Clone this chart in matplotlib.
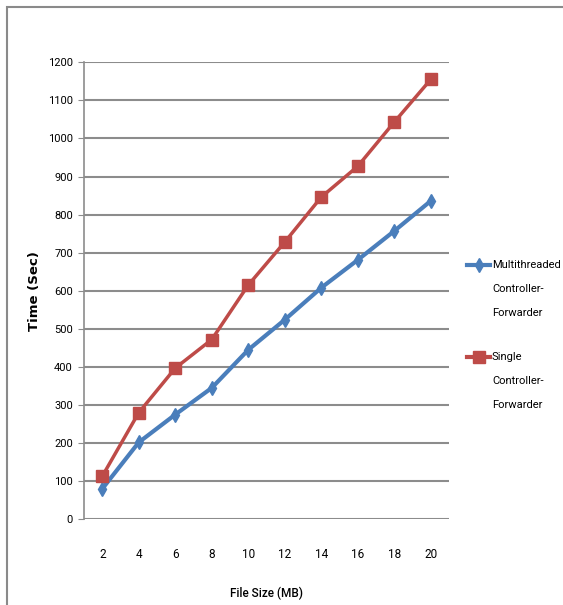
import matplotlib.pyplot as plt
from matplotlib.lines import Line2D
from matplotlib.patches import Rectangle

# file sizes (MB) and transfer times (sec)
file_sizes = [2, 4, 6, 8, 10, 12, 14, 16, 18, 20]
multi_times = [80, 202, 275, 345, 445, 524, 608, 681, 757, 836]
single_times = [113, 280, 397, 472, 615, 728, 846, 927, 1043, 1155]
series_names = ["Multithreaded\nController-\nForwarder",
                "Single\nController-\nForwarder"]

BLUE = "#4a7ebb"
RED = "#be4b48"
GRID = "#8c8c8c"
FONT = ["Roboto", "DejaVu Sans"]

W, H = 563, 605
fig = plt.figure(figsize=(W / 100, H / 100), dpi=100)
fig.patch.set_facecolor("white")

# outer chart frame
fig.add_artist(Rectangle((7 / W, -0.1), 1.2, 1 - 7 / H + 0.1,
                         transform=fig.transFigure, fill=False,
                         edgecolor="#8a8a8a", linewidth=1.5))

ax = fig.add_axes([84 / W, 1 - 519.3 / H, (449 - 84) / W, (519.3 - 62.3) / H])

xpos = list(range(len(file_sizes)))
ax.plot(xpos, multi_times, color=BLUE, lw=3, marker="d", ms=7,
        markeredgecolor=BLUE, zorder=3)
ax.plot(xpos, single_times, color=RED, lw=2.5, marker="s", ms=8,
        markeredgecolor=RED, zorder=4)

ax.set_xlim(-0.5, len(file_sizes) - 0.5)
ax.set_ylim(0, 1200)
ax.set_yticks(range(0, 1201, 100))
ax.set_xticks(xpos)
ax.set_xticklabels([str(s) for s in file_sizes])

ax.yaxis.grid(True, color=GRID, linewidth=1.5)
ax.set_axisbelow(True)
for side in ["top", "right", "bottom"]:
    ax.spines[side].set_visible(False)
ax.spines["left"].set_color(GRID)
ax.spines["left"].set_linewidth(1.2)
ax.tick_params(axis="y", length=4, color=GRID, pad=4, labelsize=8)
ax.tick_params(axis="x", length=0, pad=21, labelsize=8.5)
for lbl in ax.get_xticklabels() + ax.get_yticklabels():
    lbl.set_family(FONT)

ax.set_ylabel("Time (Sec)", fontsize=9.5, fontweight="bold",
              family="DejaVu Sans", labelpad=5)
ax.set_xlabel("File Size (MB)", fontsize=8.5, family=FONT,
              fontweight="medium", labelpad=18)

# legend on the right
for name, color, marker, ms, y0 in [(series_names[0], BLUE, "d", 7, 265),
                                     (series_names[1], RED, "s", 8, 357)]:
    fy = 1 - y0 / H
    fig.add_artist(Line2D([467 / W, 490 / W], [fy, fy], color=color, lw=3,
                          transform=fig.transFigure))
    fig.add_artist(Line2D([478.5 / W], [fy], color=color, marker=marker,
                          ms=ms, transform=fig.transFigure))
    for i, line in enumerate(name.split("\n")):
        fig.text(492 / W, 1 - (y0 + 24 * i) / H, line, fontsize=8,
                 family=FONT, va="center", ha="left")

fig.savefig("out.png", dpi=100)
